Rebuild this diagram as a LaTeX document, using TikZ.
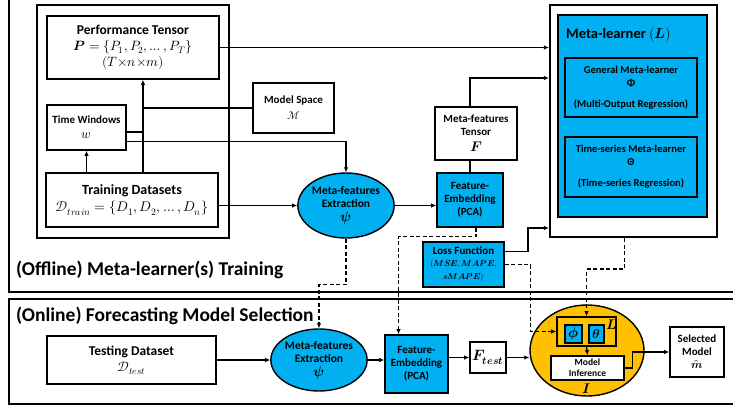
\documentclass[tikz,border=0pt]{standalone}
\usepackage{fontspec}
\usepackage{unicode-math}
\setmainfont{Carlito}
\setmathfont{Latin Modern Math}
\usetikzlibrary{arrows.meta,shapes.geometric,calc}
\definecolor{mlblue}{HTML}{00B0F0}
\definecolor{mlorange}{HTML}{FFC000}
\newcommand{\fs}[2]{\fontsize{#1}{#2}\selectfont}
\tikzset{
  blk/.style={
    rectangle,
    draw=black,
    line width=1.6pt,
    fill=white,
    align=center,
    inner sep=1pt,
    font=\bfseries\fs{11}{13},
  },
  blk blue/.style={blk, fill=mlblue},
  blk ell/.style={
    ellipse,
    draw=black,
    line width=1.4pt,
    fill=mlblue,
    align=center,
    inner sep=0pt,
    font=\bfseries\fs{11.5}{13},
  },
  frame/.style={draw=black, line width=2.2pt},
  flow/.style={-{Latex[length=5pt,width=4.5pt]}, line width=1.3pt},
  flow dash/.style={flow, dash pattern=on 4pt off 2.5pt},
  link/.style={line width=1.3pt},
  title/.style={anchor=west, inner sep=0pt, font=\bfseries\fs{19.5}{22}},
}

\begin{document}
\begin{tikzpicture}[x=1pt,y=-1pt]
  \useasboundingbox (0,0) rectangle (733,410);

  % section frames
  \draw[frame] (9,-10) rectangle (760,292);
  \draw[frame] (9,299) rectangle (760,404);
  \node[title] (offtitle) at (16,270) {(Offline) Meta-learner(s) Training};
  \node[title] (ontitle) at (16,316) {(Online) Forecasting Model Selection};

  % offline part
  \node[blk, line width=2.2pt, minimum width=192, minimum height=233] (trainframe) at (133,121.5) {};
  \node[blk, font=\bfseries\fs{13.5}{16}, minimum width=172, minimum height=63] (perf) at (133,47.5)
    {Performance Tensor\\ $\symbfit{P}=\{P_1,P_2,\ldots,P_T\}$\\ $(T{\times}n{\times}m)$};
  \node[blk, minimum width=79, minimum height=45] (tw) at (86.5,127.5)
    {Time Windows\\[2pt] {\fs{13}{14}$w$}};
  \node[blk, font=\bfseries\fs{14}{17}, minimum width=172, minimum height=54] (train) at (132,200)
    {Training Datasets\\ $\mathcal{D}_{train}=\{D_1,D_2,\ldots,D_n\}$};
  \node[blk, minimum width=81, minimum height=50] (ms) at (293.5,108)
    {Model Space\\[3pt] $\mathcal{M}$};
  \node[blk ell, minimum width=88, minimum height=65] (mfe) at (346,205.5)
    {Meta-features\\ Extraction\\[1pt] {\fs{14}{14}$\symbfit{\psi}$}};
  \node[blk blue, minimum width=66, minimum height=54] (fe) at (470,200)
    {Feature-\\ Embedding\\ (PCA)};
  \node[blk, minimum width=82, minimum height=53] (mft) at (476,133.5)
    {Meta-features\\ Tensor\\[3pt] {\fs{14}{14}$\symbfit{F}$}};
  \node[blk blue, minimum width=81, minimum height=45] (loss) at (463.5,264.5)
    {Loss Function\\[-1pt] {\fs{8.5}{10}$(\symbfit{MSE},\symbfit{MAPE},$}\\ {\fs{8.5}{10}$\symbfit{sMAPE})$}};

  % meta-learner
  \node[blk, line width=2.2pt, minimum width=167, minimum height=232] (mlout) at (633.5,121) {};
  \node[blk blue, minimum width=149, minimum height=202] (mlin) at (632.5,116) {};
  \node[anchor=west, inner sep=0pt, font=\bfseries\fs{14.5}{16}] (mltitle) at (566,35)
    {Meta-learner $(\symbfit{L})$};
  \node[blk blue, font=\bfseries\fs{10.5}{13}, minimum width=132, minimum height=59] (gml) at (631,87.5)
    {General Meta-learner\\ Φ\\[8pt] (Multi-Output Regression)};
  \node[blk blue, font=\bfseries\fs{10.5}{13}, minimum width=132, minimum height=60] (tsml) at (631,167)
    {Time-series Meta-learner\\ Θ\\[8pt] (Time-series Regression)};

  % online part
  \node[blk, font=\bfseries\fs{13.5}{16}, minimum width=169, minimum height=48] (test) at (131.5,360)
    {Testing Dataset\\ {\mdseries$\mathcal{D}_{test}$}};
  \node[blk ell, minimum width=87, minimum height=62] (mfe2) at (319,360)
    {Meta-features\\ Extraction\\[1pt] {\fs{14}{14}$\symbfit{\psi}$}};
  \node[blk blue, minimum width=63, minimum height=58] (fe2) at (416.5,364)
    {Feature-\\ Embedding\\ (PCA)};
  \node[blk, minimum width=36, minimum height=31, inner sep=0pt] (ftest) at (488,357.5)
    {\fs{15}{16}$\symbfit{F}_{\symbfit{test}}$};
  \node[blk ell, fill=mlorange, minimum width=114, minimum height=91] (mi) at (587,350.5) {};
  \node[blk, fill=mlorange, minimum width=59, minimum height=29] (lbox) at (586.5,331.5) {};
  \node[blk blue, minimum width=17, minimum height=18, inner sep=0pt] (phi) at (573.5,334)
    {\fs{14}{14}$\symbfit{\phi}$};
  \node[blk blue, minimum width=15, minimum height=18, inner sep=0pt] (theta) at (596.5,334)
    {\fs{13}{13}$\symbfit{\theta}$};
  \node[inner sep=0pt, font=\fs{14}{14}] (llabel) at (612,325) {$\symbfit{L}$};
  \node[blk, font=\bfseries\fs{9.5}{11}, minimum width=73, minimum height=24, inner sep=0pt] (infer) at (587.5,368)
    {Model\\ Inference};
  \node[inner sep=0pt, font=\fs{14}{14}] (ilabel) at (587,389) {$\symbfit{I}$};
  \node[blk, font=\bfseries\fs{11}{13}, minimum width=54, minimum height=50] (sel) at (697,352)
    {Selected\\ Model\\ $\hat{\symbfit{m}}$};

  % offline connectors
  \coordinate (trunk) at (143,110);
  \coordinate (bendF) at (470,78);
  \coordinate (bendL) at (528,228);
  \draw[flow] (perf.east) -- (perf.east -| mlout.west);
  \draw[flow] (train.north -| trunk) -- (perf.south -| trunk);
  \draw[link] (ms.west -| trunk) -- (ms.west);
  \draw[link] ([yshift=-4.5pt]tw.east) coordinate (twr) -- (twr -| trunk);
  \draw[flow] ([yshift=-14pt]tw.east) -| (mfe.north);
  \draw[flow] (train.north -| tw.south) -- (tw.south);
  \draw[flow] (train.east |- mfe.west) -- (mfe.west);
  \draw[flow] (mfe.east) -- (fe.west |- mfe.east);
  \draw[link] (fe.north) -- (fe.north |- mft.south);
  \draw[flow] (mft.north -| fe.north) -- (bendF) -- (bendF -| mlout.west);
  \draw[flow] ([yshift=13pt]loss.east) -| (bendL) -- (bendL -| mlout.west);

  % dashed links into the online part
  \draw[flow dash] (mfe.south) -- ++(0,46) -| (mfe2.north);
  \draw[flow dash] ([xshift=6pt]fe.south) -- ++(0,9) -| ([xshift=-18pt]fe2.north);
  \draw[flow dash] (loss.east) -- ++(26,0) |- (lbox.west);
  \draw[flow dash] ([xshift=-9pt]mlout.south) -- ++(0,31) -| (lbox.north);

  % online connectors
  \draw[flow] (test.east |- mfe2.west) -- (mfe2.west);
  \draw[flow] (mfe2.east) -- (fe2.west |- mfe2.east);
  \draw[flow] (fe2.east |- ftest.west) -- (ftest.west);
  \draw[flow] (ftest.east) -- (ftest.east -| mi.west);
  \draw[flow] (lbox.south) -- (infer.north);
  \draw[flow] (infer.east) -- ++(8,0) |- (sel.west);
\end{tikzpicture}
\end{document}
